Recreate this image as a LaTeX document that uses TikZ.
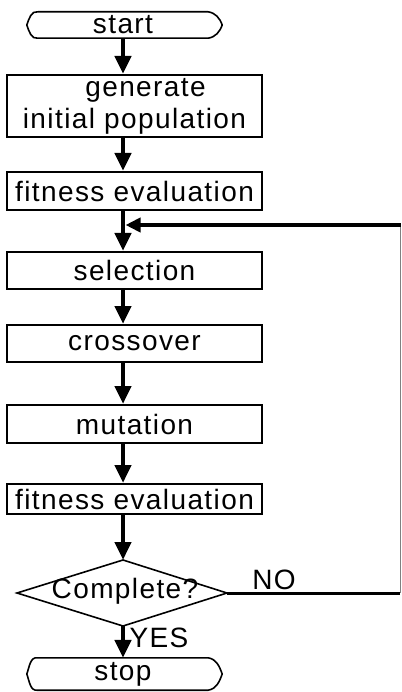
\documentclass[tikz,border=0pt]{standalone}
\usepackage{fontspec}
\newfontfamily\flowfont[LetterSpace=5]{Liberation Sans}
\usetikzlibrary{arrows.meta}
\def \boxwidth {255pt}
\def \boxx {134.5}
\def \flowx {123}
\def \terminal#1{
  \draw[line width=1.6pt, line join=round] (#1.north west) -- (#1.north east)
    to[out=-10,in=110] ([xshift=14pt]#1.east) to[out=-110,in=10] (#1.south east)
    -- (#1.south west)
    to[out=190,in=-70] ([xshift=-11pt]#1.west) to[out=70,in=170] (#1.north west);
}
\tikzset{
  procbox/.style={draw, line width=2pt, minimum width=\boxwidth, minimum height=37pt, inner sep=0pt, align=center},
  termbox/.style={minimum width=170pt, inner sep=0pt},
  flow/.style={line width=4.5pt, -{Triangle[width=16pt,length=18pt]}},
}
\begin{document}
\begin{tikzpicture}[x=1pt,y=-1pt, font=\flowfont\fontsize{28}{32}\selectfont]
\useasboundingbox (0,0) rectangle (401,692);
% Draw the terminals and the process boxes
\node[termbox, minimum height=26pt] (start) at (\flowx,25) {start};
\terminal{start}
\node[procbox, minimum height=62pt] (gen) at (\boxx,106) {\hspace{22pt}generate\\initial population};
\node[procbox, minimum height=38pt] (fit1) at (\boxx,191) {fitness evaluation};
\node[procbox] (sel) at (\boxx,270.5) {selection};
\node[procbox] (cross) at (\boxx,343.5) {crossover};
\node[procbox, minimum height=38pt] (mut) at (\boxx,424) {mutation};
\node[procbox, minimum height=30pt] (fit2) at (\boxx,499) {fitness evaluation};
% Draw the decision
\node (check) at (125,591) {Complete?};
\coordinate (check-n) at (\flowx,560);
\coordinate (check-s) at (\flowx,626);
\coordinate (check-w) at (17,593);
\coordinate (check-e) at (227,593);
\draw[line width=1.6pt] (check-w) -- (check-n) -- (check-e) -- (check-s) -- cycle;
\node[termbox, minimum height=32pt] (stop) at (\flowx,674) {stop};
\terminal{stop}
% Draw the flow arrows
\draw[flow] (start.south) -- (start.south |- gen.north);
\foreach \a/\b in {gen/fit1, fit1/sel, sel/cross, cross/mut, mut/fit2}
  \draw[flow] (\a.south -| start) -- (\b.north -| start);
\draw[flow] (fit2.south -| start) -- (check-n);
\draw[flow] (check-s) -- (stop.north);
% Draw the loop back
\coordinate (nocorner) at (400,593);
\coordinate (backcorner) at (400,225);
\coordinate (merge) at (125.5,225);
\draw[line width=3pt] (check-e) -- (nocorner);
\draw[line width=1pt, gray] (nocorner) -- (backcorner);
\draw[line width=4pt, -{Triangle[width=14pt,length=15pt]}] ([xshift=0.5pt]backcorner) -- (merge);
\node (no) at (274,579.5) {NO};
\node (yes) at (159,638) {YES};
\end{tikzpicture}
\end{document}
